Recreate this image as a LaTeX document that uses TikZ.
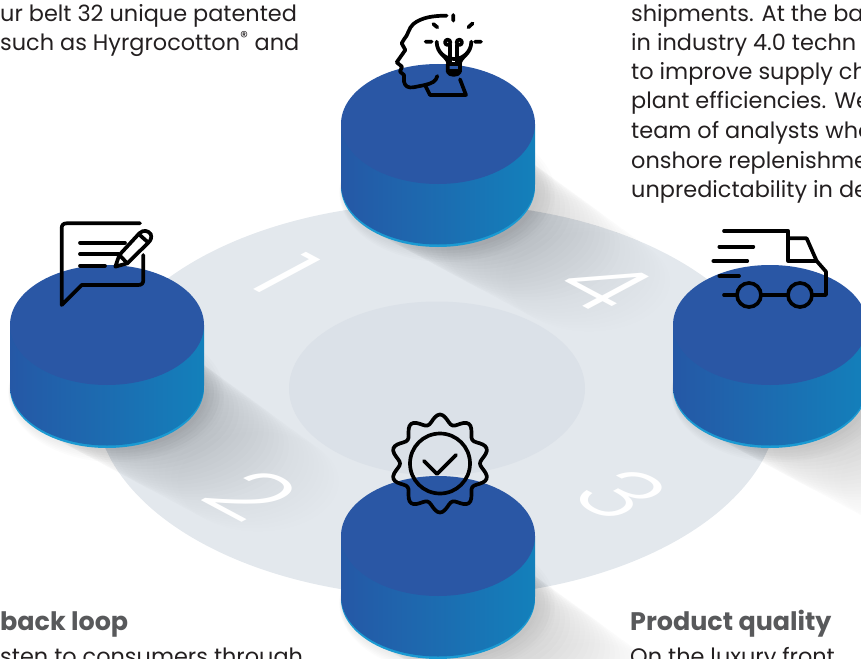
\documentclass[tikz,border=0pt]{standalone}
\usepackage{fontspec}
\setmainfont{Poppins}
\newfontfamily\digitfont{Poppins Light}
\definecolor{bigell}{HTML}{E3E8ED}
\definecolor{innerell}{HTML}{DBE1E8}
\definecolor{cyltop}{HTML}{2A57A5}
\definecolor{cylleft}{HTML}{2558A6}
\definecolor{cylright}{HTML}{1380BB}
\definecolor{cylrim}{HTML}{1B9AD2}
\definecolor{bodytext}{HTML}{231F20}
\definecolor{headtext}{HTML}{58595B}
\tikzset{
  bodyline/.style={anchor=base west,inner sep=0pt,text=bodytext,font=\fontsize{22.4}{26}\selectfont},
  headline/.style={anchor=base west,inner sep=0pt,text=headtext,font=\fontsize{25.4}{28}\selectfont\bfseries},
  digitnum/.style={transform shape,inner sep=0pt,text=white,font=\fontsize{97}{97}\selectfont\digitfont},
  iconline/.style={line width=3.7pt,line cap=round,line join=round,draw=black},
}
\newcommand{\shadowat}[2]{%
  \foreach \i in {0,...,32}{
    \pgfmathsetmacro{\op}{0.0125*(1-\i/33)}
    \pgfmathsetmacro{\rx}{97-0.6*\i}
    \fill[black,opacity=\op] (#1+5.6*\i,#2+3.5*\i) ellipse[x radius=\rx,y radius=0.62*\rx];
  }
  \foreach \i in {1,...,6}{
    \fill[black,opacity=0.012] (#1+1.5*\i,#2+2+0.6*\i) ellipse[x radius=97+1.8*\i,y radius=60+1.6*\i];
  }
}
\newcommand{\cylinderat}[2]{%
  \fill[cylrim] (#1,#2+63) ellipse[x radius=97,y radius=60];
  \path[left color=cylleft,right color=cylright]
    (#1-97,#2) -- (#1-97,#2+60.5) arc[start angle=180,end angle=0,x radius=97,y radius=60]
    -- (#1+97,#2) -- cycle;
  \fill[cyltop] (#1,#2) ellipse[x radius=97,y radius=60];
}
\begin{document}
\begin{tikzpicture}[x=1pt,y=-1pt]
\useasboundingbox (0,0) rectangle (861,658);
\clip (0,0) rectangle (861,658);
% floor
\fill[bigell] (437,400) ellipse[x radius=342,y radius=197];
\fill[innerell] (437,388.5) ellipse[x radius=148,y radius=87];
% shadows
\shadowat{438}{187}
\shadowat{107}{387}
\shadowat{770}{387}
\shadowat{438}{598}
% digits
\begin{scope}[shift={(286,274)},cm={.88,-.47,.88,.47,(0,0)}]\node[digitnum] (d1) {1};\end{scope}
\begin{scope}[shift={(252,495)},cm={.88,-.47,.88,.47,(0,0)}]\node[digitnum] (d2) {2};\end{scope}
\begin{scope}[shift={(621,494)},cm={.88,-.47,.88,.47,(0,0)}]\node[digitnum] (d3) {3};\end{scope}
\begin{scope}[shift={(604,285)},cm={.88,-.47,.88,.47,(0,0)}]\node[digitnum] (d4) {4};\end{scope}
% cylinders
\cylinderat{438}{124}
\cylinderat{107}{325}
\cylinderat{770}{325}
\cylinderat{438}{536}
% head icon
\begin{scope}[shift={(380,0)},x=0.3333pt,y=-0.3333pt]
\draw[iconline] (200,47) .. controls (160,47) and (125,52) .. (100,72) .. controls (85,85) and (85,105) .. (72,118)
  -- (65,130) -- (76,150) -- (50,187) -- (66,200) -- (60,215) -- (72,225) -- (72,245) .. controls (75,260) and (85,264) .. (100,262)
  -- (135,255) .. controls (155,250) and (168,245) .. (172,228);
\draw[iconline] (135,255) -- (150,285) -- (258,285) -- (240,238);
\draw[iconline] (205,192) .. controls (205,170) and (170,165) .. (170,125) arc[start angle=180,end angle=0,radius=52] .. controls (274,165) and (240,170) .. (240,192) -- cycle;
\draw[iconline] (220,45) -- (220,62) (160,72) -- (172,82) (278,70) -- (265,82) (137,125) -- (155,125) (285,125) -- (303,125);
\draw[iconline] (210,192) -- (210,135) (232,192) -- (232,135);
\draw[iconline] (203,127) circle[radius=8] (238,127) circle[radius=8];
\draw[iconline] (203,192) -- (203,215) (240,192) -- (240,215) (203,213) -- (240,213) (203,215) .. controls (208,228) and (235,228) .. (240,215);
\end{scope}
% chat icon
\begin{scope}[shift={(40,210)},x=0.3333pt,y=-0.3333pt]
\draw[iconline] (300,40) -- (80,40) .. controls (70,40) and (65,45) .. (65,55) -- (65,285) -- (125,225) -- (295,225) .. controls (305,225) and (310,220) .. (310,210) -- (310,135);
\draw[iconline] (120,98) -- (255,98) (120,132) -- (235,132) (120,167) -- (195,167);
\draw[iconline] (226,170) -- (238,135) -- (298,70) .. controls (310,58) and (325,62) .. (332,72) .. controls (336,82) and (333,90) .. (325,98) -- (262,160) -- cycle;
\draw[iconline] (238,135) -- (262,160) (296,72) -- (325,98);
\end{scope}
% truck icon
\begin{scope}[shift={(700,215)},x=0.3333pt,y=-0.3333pt]
\draw[iconline] (72,48) -- (265,48) -- (265,138) -- (350,138);
\draw[iconline] (265,70) -- (320,70) -- (350,138) -- (378,170) -- (378,240) -- (335,240);
\draw[iconline] (147,240) circle[radius=36] (300,240) circle[radius=36];
\draw[iconline] (183,240) -- (264,240) (72,240) -- (110,240);
\draw[iconline] (58,95) -- (160,95) (40,138) -- (142,138) (58,183) -- (117,183);
\end{scope}
% badge icon
\draw[iconline] plot[smooth cycle,samples=120,domain=0:357,variable=\t] ({440+(44.5+4.5*cos(10*\t))*sin(\t)},{463.5-(44.5+4.5*cos(10*\t))*cos(\t)});
\draw[iconline] (440,463.5) circle[radius=30];
\draw[iconline] (424,461) -- (437,474) -- (456,455);
% text
\node[bodyline] (t1) at (0,21.5) {ur belt 32 unique patented};
\node[bodyline] (t2) at (0,50.5) {such as Hyrgrocotton\textsuperscript{®} and};
\node[bodyline] (r1) at (631,21.5) {shipments. At the ba};
\node[bodyline] (r2) at (631,50.5) {in industry 4.0 techn};
\node[bodyline] (r3) at (631,80) {to improve supply ch};
\node[bodyline] (r4) at (631,109) {plant efficiencies. We};
\node[bodyline] (r5) at (631,138.5) {team of analysts who};
\node[bodyline] (r6) at (631,168) {onshore replenishme};
\node[bodyline] (r7) at (631,197.5) {unpredictability in de};
\node[headline] (h1) at (0,630) {back loop};
\node[headline] (h2) at (630,630) {Product quality};
\node[bodyline] (b1) at (0,664.5) {sten to consumers through};
\node[bodyline] (b2) at (630,664.5) {On the luxury front,};
\end{tikzpicture}
\end{document}
